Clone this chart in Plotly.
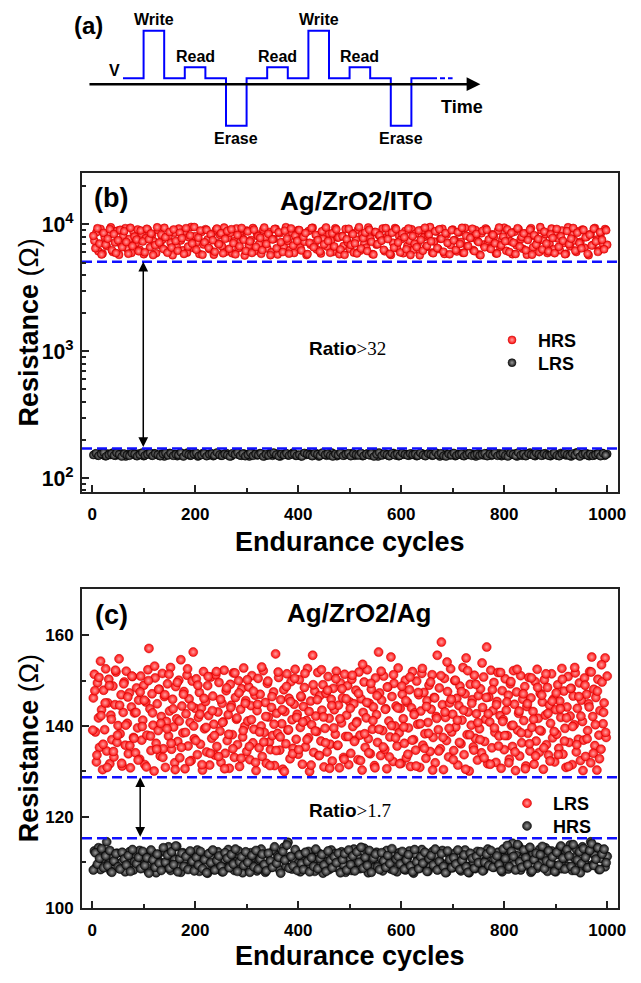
import math
import plotly.graph_objects as go

FONT = "Liberation Sans"
SERIF = "Liberation Serif"

# ---------------- panel (a): pulse scheme ----------------
pulse_seq = ["", "Write", "", "Read", "", "Erase", "", "Read", "",
             "Write", "", "Read", "", "Erase", ""]
pulse_level = {"": 0.0, "Write": 1.0, "Read": 0.23, "Erase": -1.0}
time_axis_level = -0.125
time_axis_span = (-1.7, 17.35)

# ---------------- panel (b): Ag/ZrO2/ITO ----------------
# HRS read at cycles 4, 8, 12, ... (set A) and 2, 6, 10, ... (set B)
b_hrs_a = [7420, 8650, 6130, 9210, 5880, 7960, 6740, 8320, 9480, 6050, 7210, 8890, 5750, 6980, 8140, 9330, 6420, 7680, 5960, 8760, 7050, 9120, 6310, 8420, 5820,
           7790, 9050, 6590, 8210, 7340, 5930, 8970, 6870, 7560, 9390, 6180, 8030, 7150, 5710, 8580, 6660, 9260, 7470, 6240, 8810, 5990, 7880, 9540, 6520, 8060,
           7260, 5840, 8690, 6940, 9170, 7610, 6370, 8400, 5770, 9010, 7090, 8250, 6710, 9440, 6090, 7830, 8570, 5910, 7370, 9290, 6480, 8120, 7720, 5680, 8930,
           6820, 7540, 9360, 6160, 8340, 7010, 5860, 9080, 7930, 6450, 8720, 6020, 7650, 9220, 5790, 8490, 7180, 6630, 9500, 7400, 6270, 8600, 5950, 7820, 9020,
           6570, 8180, 7300, 5730, 8850, 6900, 9410, 7110, 6340, 8270, 5890, 7700, 9130, 6680, 8440, 7480, 6070, 9310, 7870, 5810, 8060, 6760, 9190, 7240, 6410,
           8530, 5990, 7590, 9060, 6200, 8380, 7020, 6550, 9450, 7760, 5830, 8700, 6920, 8230, 7390, 9280, 6130, 7950, 8610, 5740, 7170, 9350, 6470, 8090, 7630,
           5920, 8880, 6780, 7440, 9160, 6300, 8460, 7060, 5700, 8990, 7910, 6610, 8150, 9520, 6000, 7320, 8780, 6390, 7700, 9230, 5850, 8300, 7130, 6860, 9090,
           7520, 6110, 8640, 7270, 5960, 9380, 6730, 8010, 7800, 6280, 9040, 7410, 5780, 8510, 6940, 9270, 7070, 6500, 8350, 7980, 5900, 8920, 6650, 7560, 9420,
           6190, 8200, 7350, 5820, 8740, 6830, 9150, 7620, 6420, 8470, 5760, 7890, 9330, 6600, 8080, 7190, 6040, 9000, 7500, 8390, 5940, 7040, 9260, 6370, 8620,
           7730, 6250, 8950, 7120, 5870, 9490, 6710, 8290, 7460, 6060, 8820, 7280, 9100, 6540, 7960, 5720, 8410, 6880, 9370, 7580, 6220, 8540, 7010, 9180, 6900]
b_hrs_b = [8120, 6480, 9310, 7050, 5790, 8560, 6930, 7710, 9170, 6260, 8380, 5940, 7480, 9050, 6610, 8830, 7260, 5870, 9400, 6750, 8010, 7590, 6140, 8940, 7330,
           6020, 9230, 7640, 8470, 5730, 6860, 9480, 7190, 8290, 6390, 7920, 5980, 8710, 6570, 9110, 7400, 6200, 8600, 7780, 5850, 9330, 6690, 8180, 7070, 9520,
           6310, 7850, 8950, 5760, 7220, 9040, 6530, 8330, 7500, 6080, 9260, 6980, 8510, 5910, 7690, 8870, 6420, 9150, 7110, 5800, 8240, 6720, 9370, 7560, 6170,
           8790, 7340, 5950, 9080, 6640, 8060, 7830, 6270, 9440, 7000, 8420, 5720, 7610, 9190, 6490, 8670, 7240, 6050, 8920, 7730, 5880, 9290, 6810, 8150, 7420,
           9010, 6230, 7970, 8540, 5830, 7160, 9350, 6600, 8260, 7520, 6110, 8810, 6950, 9460, 7380, 5970, 8490, 6700, 9120, 7870, 6340, 8050, 5750, 7640, 9220,
           6880, 8360, 7080, 5900, 9500, 6450, 7790, 8630, 6160, 9070, 7290, 5780, 8720, 6990, 8190, 7450, 6300, 9340, 7660, 5860, 8580, 6560, 9180, 7200, 6010,
           8440, 7910, 6370, 9270, 5740, 8080, 7030, 6620, 8960, 7550, 6200, 9410, 6770, 8310, 7350, 5920, 8820, 6510, 9140, 7710, 6090, 8520, 7140, 5810, 9000,
           7480, 6280, 8690, 7010, 9390, 5960, 8130, 6740, 7820, 9240, 6150, 8400, 7260, 5710, 8900, 6590, 9060, 7600, 6400, 8250, 7090, 5890, 9450, 6840, 8010,
           7370, 9130, 6050, 8570, 7170, 5840, 9320, 6690, 7950, 8480, 6240, 7530, 9080, 5770, 8220, 6920, 7680, 9510, 6350, 8760, 7060, 6130, 8330, 7810, 5930,
           9200, 6660, 8040, 7430, 5820, 8850, 6980, 7720, 9360, 6210, 8590, 7120, 6470, 9030, 7900, 5870, 8280, 6800, 9250, 7330, 6070, 8680, 7560, 6360, 8970]
# LRS read at cycles 5, 10, 15, ... (set A) and 2, 7, 12, ... (set B)
b_lrs_a = [155, 151, 158, 153, 149, 156, 152, 159, 150, 154, 157, 151, 148, 155, 153, 158, 150, 156, 152, 149, 154, 159, 151, 157, 153,
           150, 156, 148, 154, 158, 152, 155, 149, 157, 151, 153, 159, 150, 156, 154, 148, 152, 158, 155, 151, 157, 149, 153, 156, 150,
           154, 158, 151, 149, 155, 157, 152, 150, 156, 153, 148, 159, 154, 151, 157, 155, 149, 152, 158, 150, 153, 156, 148, 154, 157,
           151, 155, 159, 150, 153, 149, 156, 152, 158, 154, 151, 157, 148, 155, 153, 150, 156, 159, 152, 149, 154, 157, 151, 155, 153,
           158, 150, 152, 156, 149, 154, 157, 151, 153, 159, 148, 155, 152, 156, 150, 154, 158, 151, 149, 157, 153, 155, 150, 156, 152,
           149, 154, 157, 151, 155, 158, 150, 153, 156, 148, 152, 159, 154, 151, 157, 149, 155, 153, 150, 158, 152, 156, 154, 148, 157,
           153, 151, 156, 159, 150, 154, 152, 157, 149, 155, 158, 151, 153, 156, 148, 154, 150, 157, 152, 159, 155, 149, 153, 156, 151,
           157, 152, 149, 155, 153, 150, 158, 154, 151, 156, 148, 153, 159, 150, 155, 152, 157, 149, 154, 151, 156, 153, 158, 150, 155]
b_lrs_b = [152, 157, 150, 155, 159, 149, 153, 156, 151, 158, 154, 148, 156, 152, 150, 157, 155, 149, 153, 159, 151, 154, 158, 150, 156,
           153, 149, 155, 158, 151, 157, 150, 154, 152, 159, 148, 156, 153, 151, 155, 158, 150, 152, 157, 149, 154, 156, 151, 159, 153,
           150, 155, 152, 148, 157, 154, 159, 151, 156, 149, 153, 158, 150, 155, 152, 157, 148, 154, 151, 156, 159, 153, 149, 155, 152,
           157, 151, 154, 156, 150, 153, 148, 158, 155, 152, 149, 157, 154, 150, 159, 153, 156, 151, 148, 155, 152, 158, 150, 154, 157,
           149, 156, 153, 151, 158, 150, 155, 152, 157, 148, 154, 159, 151, 156, 153, 149, 157, 152, 155, 150, 158, 154, 151, 156, 153,
           155, 150, 158, 152, 149, 156, 154, 151, 159, 153, 157, 150, 148, 155, 152, 158, 151, 154, 156, 149, 153, 157, 150, 152, 155,
           151, 154, 157, 149, 155, 152, 158, 150, 153, 156, 151, 148, 157, 154, 150, 159, 152, 155, 149, 156, 153, 151, 158, 154, 150,
           156, 152, 150, 154, 158, 151, 149, 155, 157, 153, 150, 156, 152, 159, 148, 154, 157, 151, 155, 150, 153, 156, 149, 157, 152]
b_hrs_threshold = 5080
b_lrs_threshold = 171
b_arrow_cycle = 99
b_title = "Ag/ZrO2/ITO"
b_ratio = ">32"

# ---------------- panel (c): Ag/ZrO2/Ag ----------------
# red (LRS) at cycles 2, 4, 6, ... (set A) and 1, 5, 9, ... (set B)
c_lrs_a = [146.2, 151.4, 138.7, 132.1, 149.5, 141.8, 135.3, 154.3, 143.6, 130.4, 147.9, 139.2, 152.6, 134.5, 145.1, 150.3, 131.7, 142.4, 137.0, 148.8, 133.2, 144.7, 151.9, 136.4, 140.1,
           154.8, 138.3, 146.9, 131.2, 143.0, 149.7, 135.8, 152.1, 140.6, 133.9, 147.3, 130.8, 144.2, 150.9, 137.5, 142.9, 134.1, 148.4, 139.6, 145.7, 132.7, 151.0, 136.9, 141.3, 149.0,
           131.5, 145.3, 138.0, 152.4, 157.1, 143.8, 134.6, 147.1, 140.2, 130.1, 150.6, 136.2, 144.9, 139.0, 148.1, 133.4, 142.1, 151.6, 135.0, 146.5, 130.9, 141.0, 149.3, 137.8, 143.3,
           152.9, 134.9, 145.9, 139.8, 131.9, 148.7, 141.6, 136.6, 150.1, 133.0, 154.6, 144.4, 138.5, 147.6, 130.6, 142.7, 151.2, 135.6, 146.0, 140.8, 132.4, 149.9, 156.3, 137.2, 143.9,
           150.4, 133.7, 141.9, 147.4, 136.0, 144.0, 130.3, 152.0, 139.4, 145.4, 134.3, 148.9, 142.3, 131.4, 150.8, 137.3, 146.6, 140.4, 133.6, 151.3, 135.5, 143.1, 149.6, 138.9, 132.0,
           145.0, 140.9, 152.3, 134.0, 147.8, 136.8, 142.5, 130.7, 149.2, 144.6, 138.1, 151.7, 133.1, 146.3, 141.5, 135.9, 150.0, 131.1, 143.7, 148.2, 137.6, 152.8, 139.9, 145.6, 134.4,
           141.1, 148.6, 132.6, 144.5, 151.1, 136.3, 139.3, 146.8, 130.2, 143.4, 150.5, 135.2, 147.0, 140.0, 133.3, 152.2, 138.6, 145.2, 131.8, 149.4, 142.0, 136.5, 134.8, 144.1, 137.9,
           147.5, 131.3, 155.9, 142.8, 138.4, 150.7, 134.7, 145.8, 140.5, 130.5, 148.0, 143.2, 136.1, 151.5, 139.1, 146.1, 132.8, 149.8, 141.4, 135.1, 144.8, 152.5, 137.1, 142.6, 133.8,
           150.2, 139.7, 146.4, 131.6, 144.3, 148.5, 135.4, 141.2, 152.7, 137.4, 130.0, 145.5, 140.3, 155.6, 134.2, 147.7, 142.2, 138.8, 151.8, 133.5, 146.7, 136.7, 143.5, 149.1, 131.0,
           139.5, 147.2, 134.3, 150.9, 141.7, 136.0, 145.9, 132.3, 148.3, 143.6, 138.2, 152.1, 135.7, 144.6, 130.8, 149.5, 140.7, 146.2, 133.1, 151.4, 137.7, 142.4, 148.9, 131.5, 145.3,
           134.0, 150.3, 139.9, 144.9, 136.9, 147.9, 141.0, 132.6, 151.9, 138.0, 146.0, 130.3, 143.0, 149.7, 135.3, 141.8, 152.4, 137.2, 145.0, 133.9, 148.1, 139.3, 144.2, 131.3, 150.6,
           142.5, 136.4, 156.3, 147.3, 133.5, 145.7, 139.0, 151.0, 134.9, 143.8, 130.6, 148.6, 141.1, 137.6, 155.2, 146.5, 132.2, 149.4, 140.0, 144.4, 135.6, 152.8, 138.5, 143.9, 131.8,
           147.0, 141.6, 136.2, 150.1, 133.0, 145.2, 139.6, 148.0, 131.1, 144.0, 152.0, 137.0, 142.9, 134.7, 149.9, 140.4, 146.9, 130.9, 143.3, 151.6, 135.8, 147.4, 138.3, 132.9, 145.6,
           140.8, 149.0, 134.4, 143.7, 151.3, 137.5, 146.3, 131.9, 142.1, 155.6, 139.2, 148.4, 135.0, 158.5, 144.7, 130.4, 150.5, 141.9, 136.8, 147.6, 133.2, 145.1, 152.6, 138.7, 142.6,
           134.6, 150.0, 139.8, 146.1, 131.4, 144.5, 148.8, 136.1, 141.3, 152.9, 133.7, 147.1, 155.0, 138.1, 143.1, 130.1, 149.2, 140.2, 145.8, 135.4, 151.2, 137.3, 142.7, 132.5, 146.7,
           139.4, 148.2, 134.1, 144.1, 150.8, 136.6, 141.5, 157.4, 131.7, 146.4, 140.9, 152.3, 135.2, 143.4, 149.6, 138.6, 132.0, 145.4, 151.8, 137.8, 142.3, 130.7, 147.8, 141.4, 134.8,
           150.4, 143.5, 137.9, 146.8, 132.7, 149.3, 140.1, 135.5, 152.2, 144.8, 130.2, 147.5, 139.1, 142.8, 133.4, 151.1, 136.3, 145.9, 141.2, 148.7, 131.2, 144.3, 138.4, 150.7, 134.5,
           146.2, 139.7, 143.2, 131.6, 149.8, 136.7, 152.5, 141.7, 134.2, 147.2, 138.9, 145.3, 130.5, 150.2, 142.4, 135.9, 148.5, 133.6, 144.6, 140.6, 151.5, 137.4, 146.0, 132.1, 143.6,
           138.2, 149.1, 135.1, 145.5, 141.9, 152.7, 133.8, 147.7, 139.5, 130.9, 144.2, 150.9, 136.4, 142.2, 148.3, 131.5, 146.6, 140.3, 151.7, 134.3, 143.9, 137.1, 149.5, 132.4, 145.7,
           141.0, 136.9, 150.6, 133.3, 147.0, 139.0, 144.9, 152.0, 131.9, 155.2, 142.1, 148.1, 135.7, 146.3, 130.3, 150.3, 138.0, 143.4, 134.9, 149.7, 140.5, 145.1, 155.0, 137.5, 151.0]
c_lrs_b = [139.1, 147.8, 133.6, 150.7, 142.3, 136.0, 145.1, 130.9, 148.9, 141.5, 134.4, 152.3, 138.0, 144.6, 131.8, 149.3, 140.2, 146.4, 135.7, 151.0, 137.3, 143.0, 132.5, 147.5, 139.9,
           145.7, 131.0, 150.0, 137.8, 142.9, 153.2, 134.9, 148.1, 140.6, 133.1, 146.9, 139.4, 151.4, 136.2, 143.8, 130.4, 149.6, 141.1, 135.3, 147.0, 138.6, 152.6, 132.2, 144.4, 140.0,
           136.8, 149.0, 142.6, 131.5, 146.1, 139.7, 150.9, 134.0, 143.4, 137.9, 152.0, 133.3, 145.9, 140.8, 130.6, 148.4, 138.2, 144.1, 135.0, 151.7, 141.8, 147.3, 132.9, 139.0, 145.0,
           150.2, 135.5, 141.4, 147.7, 132.0, 144.8, 138.7, 153.0, 136.5, 142.1, 149.9, 131.3, 146.5, 140.4, 134.6, 151.9, 137.6, 143.6, 130.0, 148.7, 139.2, 145.4, 133.9, 150.5, 141.9,
           134.8, 146.6, 140.9, 151.6, 137.0, 143.2, 131.4, 149.1, 138.9, 145.8, 133.5, 152.4, 142.0, 136.3, 147.9, 130.7, 144.5, 139.6, 150.4, 135.8, 141.6, 148.2, 132.7, 146.0, 137.7,
           143.9, 151.2, 136.6, 140.7, 147.2, 132.4, 153.6, 138.3, 145.2, 134.1, 149.4, 141.2, 130.8, 146.7, 139.3, 152.1, 135.4, 143.7, 148.6, 133.2, 140.1, 151.3, 137.4, 144.0, 131.7,
           148.8, 139.8, 145.6, 133.8, 150.8, 136.9, 142.5, 131.2, 147.4, 140.5, 152.7, 135.1, 144.3, 138.4, 149.7, 130.3, 146.2, 141.7, 134.5, 151.1, 137.5, 143.1, 154.1, 139.5, 145.9,
           132.6, 150.1, 141.3, 136.4, 147.6, 143.5, 130.5, 152.2, 138.1, 145.0, 134.7, 149.2, 140.8, 137.0, 153.9, 133.0, 146.3, 142.7, 131.6, 148.0, 139.6, 144.7, 135.6, 151.8, 141.0,
           137.9, 145.3, 131.9, 149.8, 140.2, 134.3, 152.5, 143.3, 138.5, 147.1, 130.6, 144.9, 136.1, 150.6, 141.5, 133.4, 148.5, 139.1, 146.8, 135.2, 151.5, 142.8, 132.3, 145.5, 138.8,
           147.3, 133.7, 143.8, 150.3, 136.7, 141.8, 131.1, 148.3, 139.9, 152.9, 135.9, 146.5, 142.2, 130.2, 149.0, 137.2, 144.2, 151.9, 134.0, 140.3, 147.7, 132.8, 153.5, 143.0, 138.6]
# black (HRS) at cycles 4, 8, 12, ... (set A) and 2, 6, 10, ... (set B)
c_hrs_a = [112.5, 109.0, 113.2, 108.4, 110.8, 111.6, 114.5, 109.7, 108.0, 111.2, 110.1, 112.0, 108.7, 109.9, 111.8, 107.9, 110.5, 112.3, 109.2, 108.3, 111.0, 110.3, 112.6, 108.8, 109.5,
           111.4, 108.1, 110.9, 112.2, 109.4, 107.7, 111.7, 110.0, 108.6, 112.4, 109.8, 113.4, 108.2, 111.3, 110.6, 113.5, 109.1, 107.8, 112.1, 110.4, 108.9, 111.9, 109.6, 108.5, 110.7,
           112.7, 108.0, 110.2, 111.5, 109.3, 107.6, 112.0, 110.8, 108.4, 109.9, 112.3, 111.1, 107.9, 110.5, 108.8, 112.8, 109.4, 111.6, 108.2, 110.1, 112.5, 109.0, 107.7, 111.3, 110.6,
           108.6, 112.1, 109.7, 111.0, 108.1, 110.4, 112.9, 109.2, 107.8, 111.8, 110.0, 108.9, 112.6, 109.5, 111.4, 108.3, 110.9, 113.3, 109.1, 114.4, 111.2, 108.5, 110.3, 112.2, 109.8,
           107.9, 111.7, 110.2, 108.7, 112.4, 109.3, 111.1, 108.0, 110.7, 112.0, 109.6, 107.6, 111.5, 110.1, 108.4, 112.7, 109.0, 111.9, 108.8, 110.5, 112.3, 109.4, 107.8, 111.2, 110.8,
           108.2, 112.9, 109.9, 111.3, 108.6, 110.0, 113.1, 109.1, 107.7, 111.6, 110.4, 108.9, 112.2, 109.7, 111.0, 108.1, 110.6, 112.6, 109.3, 108.5, 111.8, 110.2, 107.9, 112.1, 109.6,
           111.4, 108.3, 110.9, 112.5, 109.2, 107.6, 111.7, 110.3, 108.7, 112.8, 109.8, 111.1, 108.0, 110.7, 112.3, 109.0, 111.5, 108.4, 110.1, 112.6, 109.5, 107.8, 111.9, 110.5, 108.8,
           112.0, 109.4, 111.2, 108.1, 110.8, 112.7, 109.1, 107.7, 111.6, 110.0, 108.6, 112.4, 109.7, 111.3, 108.2, 110.4, 112.9, 109.3, 111.8, 108.9, 110.6, 112.2, 109.0, 107.9, 111.1,
           110.2, 108.5, 112.6, 114.2, 109.6, 111.5, 113.6, 108.3, 110.9, 112.1, 109.2, 113.0, 107.8, 111.9, 110.5, 108.7, 112.8, 109.9, 111.4, 113.2, 108.0, 110.3, 112.5, 109.4, 107.9,
           111.7, 113.1, 108.6, 110.7, 112.3, 109.1, 113.8, 108.2, 111.0, 112.9, 109.7, 107.7, 113.4, 110.1, 108.8, 112.0, 114.5, 109.5, 111.6, 113.3, 108.4, 110.8, 112.7, 109.0, 111.3]
c_hrs_b = [108.3, 112.1, 109.6, 110.9, 113.0, 108.8, 111.4, 109.2, 112.6, 107.8, 110.3, 111.9, 109.0, 108.5, 112.2, 110.7, 109.4, 111.5, 108.0, 112.8, 110.1, 109.7, 111.1, 108.6, 112.4,
           109.3, 111.0, 107.6, 112.7, 110.5, 108.9, 111.8, 109.8, 108.2, 113.2, 110.0, 111.6, 108.7, 112.3, 109.5, 113.6, 107.9, 110.8, 112.0, 109.1, 111.3, 108.4, 112.5, 110.2, 108.1,
           111.1, 109.4, 112.4, 108.6, 110.6, 107.7, 111.9, 109.9, 112.7, 108.3, 110.4, 111.4, 109.1, 107.9, 112.1, 110.9, 108.8, 111.7, 109.6, 112.9, 108.0, 110.1, 111.2, 109.3, 112.3,
           110.0, 107.8, 111.5, 109.0, 112.6, 108.5, 110.7, 111.8, 109.5, 108.1, 112.0, 110.3, 108.9, 113.4, 109.8, 111.1, 107.6, 112.4, 110.5, 113.8, 108.7, 111.3, 109.2, 112.8, 108.2,
           111.6, 109.7, 108.4, 112.2, 110.2, 107.9, 111.0, 109.1, 112.9, 108.6, 110.8, 111.7, 109.4, 108.0, 112.5, 110.4, 108.8, 111.2, 109.9, 112.0, 107.7, 110.6, 111.9, 108.3, 112.7,
           109.5, 111.4, 108.1, 112.3, 110.0, 113.3, 108.7, 111.1, 109.3, 112.6, 107.8, 110.9, 111.8, 109.0, 108.4, 112.1, 110.3, 108.9, 111.5, 109.7, 113.0, 108.2, 110.7, 111.3, 109.6,
           112.4, 108.5, 110.5, 111.7, 109.2, 107.9, 112.8, 110.1, 108.6, 111.2, 109.8, 112.2, 108.0, 110.8, 111.5, 109.4, 112.9, 108.3, 110.2, 111.9, 109.1, 107.7, 112.5, 110.6, 108.8,
           111.0, 109.6, 112.7, 108.4, 110.4, 111.6, 109.0, 107.8, 112.0, 110.9, 108.7, 111.3, 109.9, 112.3, 108.1, 110.0, 111.8, 109.3, 112.6, 108.9, 110.7, 111.4, 109.5, 108.2, 112.9,
           110.8, 113.7, 109.0, 112.4, 111.3, 108.3, 113.9, 110.1, 108.9, 112.7, 111.0, 109.5, 113.3, 108.1, 110.6, 112.0, 109.2, 111.7, 113.5, 108.6, 110.3, 112.5, 109.8, 111.2, 108.0,
           112.2, 109.4, 113.6, 110.9, 108.5, 112.8, 111.4, 109.1, 113.9, 108.2, 110.5, 112.3, 109.7, 113.0, 111.1, 108.8, 112.6, 114.1, 109.3, 110.7, 113.2, 108.4, 111.8, 112.9, 109.9]
c_upper_threshold = 128.7
c_lower_threshold = 115.3
c_arrow_cycle = 93
c_title = "Ag/ZrO2/Ag"
c_ratio = ">1.7"

X_RANGE = [-20, 1021]


def cycles(start, step, vals):
    return [start + step * i for i in range(len(vals))]


b_hrs = b_hrs_a + b_hrs_b
b_hrs_x = cycles(4, 4, b_hrs_a) + cycles(2, 4, b_hrs_b)
b_lrs = b_lrs_a + b_lrs_b
b_lrs_x = cycles(5, 5, b_lrs_a) + cycles(2, 5, b_lrs_b)
c_lrs = c_lrs_a + c_lrs_b
c_lrs_x = cycles(2, 2, c_lrs_a) + cycles(1, 4, c_lrs_b)
c_hrs = c_hrs_a + c_hrs_b
c_hrs_x = cycles(4, 4, c_hrs_a) + cycles(2, 4, c_hrs_b)

# ---------------- geometry helpers (pixel -> paper) ----------------
W, H = 641, 983
ML, MR = 82, 23
PW = W - ML - MR


def px(x):
    return (x - ML) / PW


def py(y):
    return 1 - y / H


RED = dict(color="#ff0a0a", gradient=dict(type="radial", color="#ffa0a0"),
           line=dict(color="#c00000", width=0.5))
BLACK = dict(color="#151515", gradient=dict(type="radial", color="#9a9a9a"),
             line=dict(color="#000000", width=0.5))

fig = go.Figure()

# ---- panel (b) traces ----
fig.add_trace(go.Scatter(x=b_hrs_x, y=b_hrs, mode="markers", name="HRS",
                         marker=dict(size=8, **RED), xaxis="x", yaxis="y", legend="legend"))
fig.add_trace(go.Scatter(x=b_lrs_x, y=b_lrs, mode="markers", name="LRS",
                         marker=dict(size=8, **BLACK), xaxis="x", yaxis="y", legend="legend3"))
for thr in (b_hrs_threshold, b_lrs_threshold):
    fig.add_trace(go.Scatter(x=X_RANGE, y=[thr, thr], mode="lines", showlegend=False,
                             line=dict(color="#1010ff", width=2.5, dash="10px,5px"),
                             xaxis="x", yaxis="y", hoverinfo="skip"))

# ---- panel (c) traces ----
fig.add_trace(go.Scatter(x=c_lrs_x, y=c_lrs, mode="markers", name="LRS",
                         marker=dict(size=9, **RED), xaxis="x2", yaxis="y2", legend="legend2"))
fig.add_trace(go.Scatter(x=c_hrs_x, y=c_hrs, mode="markers", name="HRS",
                         marker=dict(size=9, **BLACK), xaxis="x2", yaxis="y2", legend="legend4"))
for thr in (c_upper_threshold, c_lower_threshold):
    fig.add_trace(go.Scatter(x=X_RANGE, y=[thr, thr], mode="lines", showlegend=False,
                             line=dict(color="#1010ff", width=2.5, dash="10px,5px"),
                             xaxis="x2", yaxis="y2", hoverinfo="skip"))

# ---- panel (a) pulse waveform ----
wx = list(range(len(pulse_seq) + 1))
wy = [pulse_level[p] for p in pulse_seq] + [pulse_level[pulse_seq[-1]]]
fig.add_trace(go.Scatter(x=wx, y=wy, mode="lines", line_shape="hv", showlegend=False,
                         line=dict(color="#0000ff", width=2), xaxis="x3", yaxis="y3",
                         hoverinfo="skip"))
fig.add_trace(go.Scatter(x=[len(pulse_seq), len(pulse_seq) + 1],
                         y=[pulse_level[""], pulse_level[""]], mode="lines", showlegend=False,
                         line=dict(color="#0000ff", width=2, dash="5px,3px"),
                         xaxis="x3", yaxis="y3", hoverinfo="skip"))

annotations = []
bold = dict(family=FONT, color="black", weight="bold")
C = dict(xanchor="center", yanchor="middle", showarrow=False)

# pulse labels
for i, p in enumerate(pulse_seq):
    if not p:
        continue
    lv = pulse_level[p]
    yy = lv + 0.23 if lv > 0 else lv - 0.27
    annotations.append(dict(x=i + 0.5, y=yy, xref="x3", yref="y3", text=p,
                            font=dict(size=16, **bold), **C))
annotations.append(dict(x=-0.39, y=0.17, xref="x3", yref="y3", text="V",
                        font=dict(size=16, **bold), **C))
annotations.append(dict(x=16.45, y=-0.6, xref="x3", yref="y3", text="Time",
                        font=dict(size=18, **bold), **C))
annotations.append(dict(x=px(88), y=py(26), xref="paper", yref="paper", text="(a)",
                        font=dict(size=24, **bold), **C))
# time axis arrow
annotations.append(dict(x=time_axis_span[1], y=time_axis_level, ax=time_axis_span[0],
                        ay=time_axis_level, xref="x3", yref="y3", axref="x3", ayref="y3",
                        text="", showarrow=True, arrowhead=2, arrowsize=1.1, arrowwidth=2.5,
                        arrowcolor="black", standoff=0, startstandoff=0))

# panel labels and titles
annotations += [
    dict(x=px(111), y=py(200), xref="paper", yref="paper", text="(b)",
         font=dict(size=27, **bold), **C),
    dict(x=px(356), y=py(203), xref="paper", yref="paper", text=b_title,
         font=dict(size=26, **bold), **C),
    dict(x=px(111), y=py(621), xref="paper", yref="paper", text="(c)",
         font=dict(size=27, **bold), **C),
    dict(x=px(359), y=py(619), xref="paper", yref="paper", text=c_title,
         font=dict(size=26, **bold), **C),
]
# ratio texts
for yy, txt in ((352, b_ratio), (819, c_ratio)):
    annotations.append(dict(x=px(307), y=py(yy), xref="paper", yref="paper", xanchor="left",
                            yanchor="middle",
                            text="<b>Ratio</b><span style='font-family:" + SERIF + "'>"
                                 + txt.replace(">", "&gt;") + "</span>",
                            showarrow=False, font=dict(size=19, family=FONT, color="black")))
# double arrows
annotations.append(dict(x=b_arrow_cycle, y=math.log10(b_hrs_threshold), ax=b_arrow_cycle,
                        ay=math.log10(b_lrs_threshold), xref="x", yref="y", axref="x", ayref="y",
                        text="", showarrow=True, arrowside="end+start", arrowhead=2,
                        arrowsize=1.3, arrowwidth=1.5, arrowcolor="black", standoff=0,
                        startstandoff=0))
annotations.append(dict(x=c_arrow_cycle, y=c_upper_threshold, ax=c_arrow_cycle,
                        ay=c_lower_threshold, xref="x2", yref="y2", axref="x2", ayref="y2",
                        text="", showarrow=True, arrowside="end+start", arrowhead=2,
                        arrowsize=1.3, arrowwidth=1.5, arrowcolor="black", standoff=0,
                        startstandoff=0))
# axis titles
for yc in (336, 756):
    annotations.append(dict(x=px(29), y=py(yc), xref="paper", yref="paper", textangle=-90,
                            text="<b>Resistance</b> (Ω)",
                            font=dict(size=27, family=FONT, color="black"), **C))
for yc in (548, 966):
    annotations.append(dict(x=0.5, y=py(yc), xref="paper", yref="paper",
                            text="Endurance cycles", font=dict(size=27, **bold), **C))

axis_common = dict(showline=True, mirror=True, linecolor="#222", linewidth=2,
                   ticks="inside", ticklen=7, tickwidth=2, tickcolor="#222",
                   showgrid=False, zeroline=False,
                   tickfont=dict(size=17, family=FONT, color="black", weight="bold"))
minor_common = dict(ticks="inside", ticklen=4, tickwidth=1.5, tickcolor="#222")
legend_font = dict(size=18, family=FONT, color="black", weight="bold")


def legend_at(x_marker, y_center):
    return dict(x=px(x_marker - 25), y=py(y_center - 14), xanchor="left", yanchor="top",
                bgcolor="rgba(0,0,0,0)", borderwidth=0, itemwidth=42, font=legend_font)


fig.update_layout(
    width=W, height=H, autosize=False,
    margin=dict(l=ML, r=MR, t=0, b=0, pad=0),
    paper_bgcolor="white", plot_bgcolor="white",
    xaxis=dict(domain=[0, 1], anchor="y", range=X_RANGE, dtick=200, tick0=0,
               ticklabelstandoff=6, minor=dict(dtick=100, **minor_common), **axis_common),
    yaxis=dict(domain=[py(497), py(175)], anchor="x", type="log", range=[1.891, 4.403],
               dtick=1, exponentformat="power", ticklabelstandoff=3,
               minor=dict(dtick="D1", **minor_common), **axis_common),
    xaxis2=dict(domain=[0, 1], anchor="y2", range=X_RANGE, dtick=200, tick0=0,
                ticklabelstandoff=6, minor=dict(dtick=100, **minor_common), **axis_common),
    yaxis2=dict(domain=[py(917), py(595)], anchor="x2", range=[100, 170.2], dtick=20, tick0=0,
                ticklabelstandoff=3, minor=dict(dtick=10, **minor_common), **axis_common),
    xaxis3=dict(domain=[0, 1], anchor="y3", range=[-1.99, 24.03], visible=False),
    yaxis3=dict(domain=[py(150), 1], anchor="x3", range=[-1.479, 1.646], visible=False),
    legend=legend_at(511, 339),
    legend3=legend_at(511, 362),
    legend2=legend_at(526, 807),
    legend4=legend_at(526, 830),
    annotations=annotations,
    showlegend=True,
)

fig.write_html("out.html", config={"displayModeBar": False})
